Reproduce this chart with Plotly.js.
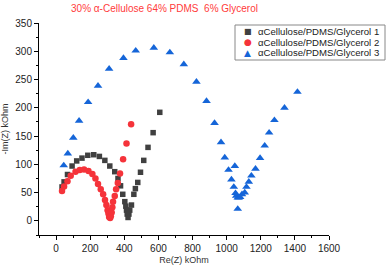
<!DOCTYPE html>
<html>
<head>
<meta charset="utf-8">
<script src="https://cdn.plot.ly/plotly-3.0.1.min.js"></script>
<style>html,body{margin:0;padding:0;background:#fff;}#chart{width:387px;height:267px;}</style>
</head>
<body>
<div id="chart"></div>
<script>
// ---- data ----
const seriesNames = ["αCellulose/PDMS/Glycerol 1", "αCellulose/PDMS/Glycerol 2", "αCellulose/PDMS/Glycerol 3"];
const s1x = [35,47,67,94,121,152,186,221,254,286,315,344,363,378,391,403,409,413,417,422,427,432,442,456,465,479,495,514,539,569,608];
const s1y = [60,69,82,97,106,111,116,117,114,107,97,87,75,62,47,34,26,19,12,6,12,19,28,47,57,68,86,107,130,156,192];
const s2x = [35,47,67,86,114,139,164,190,213,231,246,262,276,287,295,302,307,311,317,321,326,330,334,344,352,362,375,393,413,440];
const s2y = [53,61,70,80,87,90,91,88,83,75,65,56,47,37,28,19,13,7,5,8,15,24,34,44,56,67,84,109,137,171];
const s3x = [45,69,101,135,188,246,311,395,467,573,667,749,823,882,929,967,989,1011,1028,1042,1048,1052,1056,1065,1071,1079,1090,1065,1106,1116,1130,1145,1169,1196,1223,1249,1280,1339,1415];
const s3y = [98,119,147,177,210,239,269,288,301,306,298,277,246,212,173,139,112,90,73,60,97,49,44,41,41,42,47,21,50,60,69,80,92,111,133,156,178,200,228];
const titleText = "30% α-Cellulose 64% PDMS\u00a0 6% Glycerol";
const xTitle = "Re(Z) kOhm";
const yTitle = "-Im(Z) kOhm";

// ---- styles ----
const colors = ["#404040", "#f5333a", "#1565d8"];
const symbols = ["square", "circle", "triangle-up"];
const sizes = [5.5, 6.5, 7.5];
const glyphs = ["■", "●", "▲"];
const FONT = "Arial, 'Liberation Sans', sans-serif";

const W = 387, H = 267, L = 39, R = 58, T = 23, B = 32;
const pw = W - L - R, ph = H - T - B;
const px = x => (x - L) / pw;
const py = y => (H - B - y) / ph;

const xs = [s1x, s2x, s3x], ys = [s1y, s2y, s3y];
const traces = xs.map((x, i) => ({
  type: "scatter", mode: "markers", x: x, y: ys[i], name: seriesNames[i],
  marker: {symbol: symbols[i], size: sizes[i], color: colors[i], line: {width: 0}},
  showlegend: false, cliponaxis: false
}));

// custom compact legend
const legY = [31.5, 42, 52.5];
const annotations = [];
seriesNames.forEach((n, i) => {
  annotations.push({xref: "paper", yref: "paper", x: px(247.5), y: py(legY[i]), text: glyphs[i],
    showarrow: false, xanchor: "center", yanchor: "middle",
    font: {family: "DejaVu Sans", size: i === 0 ? 8 : 9, color: colors[i]}});
  annotations.push({xref: "paper", yref: "paper", x: px(256), y: py(legY[i]), text: n,
    showarrow: false, xanchor: "left", yanchor: "middle",
    font: {family: FONT, size: 9.6, color: "#222"}});
});

const axisCommon = {
  showline: true, linecolor: "#000", linewidth: 1, mirror: false,
  showgrid: false, zeroline: false,
  ticks: "outside", ticklen: 4, tickwidth: 1, tickcolor: "#000",
  tickfont: {family: FONT, size: 10, color: "#222"},
};

const layout = {
  width: W, height: H,
  margin: {l: L, r: R, t: T, b: B, pad: 0},
  paper_bgcolor: "#fff", plot_bgcolor: "#fff",
  showlegend: false,
  title: {text: titleText, x: 164.5 / W, xref: "container", xanchor: "center",
          y: 1 - 8.5 / H, yref: "container", yanchor: "middle",
          font: {family: FONT, size: 10, color: "#ff3b3b"}},
  xaxis: Object.assign({}, axisCommon, {
    range: [-100, 1600], tick0: 0, dtick: 200,
    minor: {dtick: 100, ticks: "outside", ticklen: 2, tickcolor: "#000"},
    title: {text: xTitle, standoff: 3, font: {family: FONT, size: 9, color: "#333"}}
  }),
  yaxis: Object.assign({}, axisCommon, {
    range: [-25, 350], tick0: 0, dtick: 50,
    minor: {dtick: 25, ticks: "outside", ticklen: 2, tickcolor: "#000"},
    title: {text: yTitle, standoff: 6, font: {family: FONT, size: 9, color: "#333"}}
  }),
  shapes: [{type: "rect", xref: "paper", yref: "paper",
    x0: px(235), x1: px(385), y0: py(60), y1: py(25),
    line: {color: "#888", width: 1}, fillcolor: "rgba(255,255,255,0)"}],
  annotations: annotations
};

Plotly.newPlot("chart", traces, layout, {displayModeBar: false, staticPlot: true});
</script>
</body>
</html>
